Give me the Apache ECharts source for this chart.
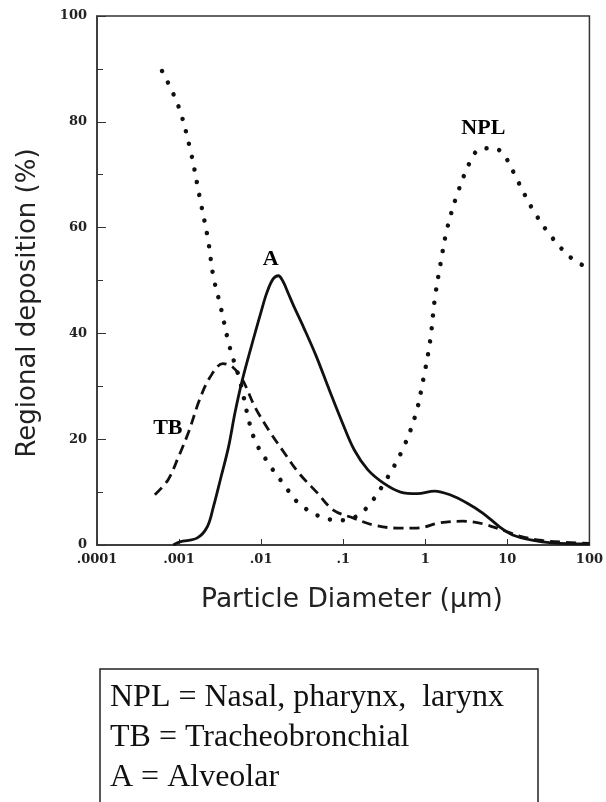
<!DOCTYPE html>
<html>
<head>
<meta charset="utf-8">
<script src="https://cdn.jsdelivr.net/npm/echarts@6/dist/echarts.min.js"></script>
<style>
  html, body { margin: 0; padding: 0; background: #fff; }
  #chart { width: 606px; height: 802px; }
</style>
</head>
<body>
<div id="chart"></div>
<script>
// tick labels of the log x axis, one per decade from 1e-4 to 1e2
var xTickLabels = ['.0001', '.001', '.01', '.1', '1', '10', '100'];

// [particle diameter (um), regional deposition (%)]
var nplData = [
    [0.00062, 89.6], [0.00098, 83.0], [0.00138, 74.5], [0.00179, 65.6],
    [0.00225, 57.8], [0.00262, 50.7], [0.00315, 45.6], [0.00408, 37.8],
    [0.00547, 31.2], [0.0081, 20.4], [0.0122, 15.5], [0.0184, 11.7],
    [0.0301, 7.6], [0.0655, 4.9], [0.097, 4.7], [0.14, 5.3],
    [0.203, 7.4], [0.339, 12.5], [0.538, 18.3], [0.767, 24.8],
    [0.948, 31.4], [1.146, 38.6], [1.31, 46.7], [1.53, 53.1],
    [1.84, 59.7], [2.47, 66.5], [3.61, 72.8], [4.68, 74.9],
    [6.92, 75.0], [9.13, 73.7], [13.4, 68.8], [20.6, 63.3],
    [34.7, 58.2], [61.7, 54.1], [100, 52.3]
];

var tbData = [
    [0.000507, 9.5], [0.000733, 12.3], [0.00098, 16.6], [0.00131, 21.4],
    [0.00177, 27.4], [0.00236, 31.6], [0.00343, 34.3], [0.00452, 33.6],
    [0.00594, 31.2], [0.0084, 26.1], [0.0124, 21.7], [0.0192, 17.4],
    [0.0288, 13.6], [0.0487, 9.8], [0.0758, 6.6], [0.132, 5.1],
    [0.231, 3.8], [0.452, 3.2], [0.79, 3.2], [1.51, 4.2],
    [2.88, 4.5], [5.04, 4.0], [8.8, 2.8], [14.1, 1.7],
    [24.7, 0.9], [52, 0.5], [100, 0.3]
];

var aData = [
    [0.00085, 0], [0.00102, 0.6], [0.00165, 1.3], [0.0022, 3.4],
    [0.00262, 7.2], [0.00325, 12.9], [0.004, 18.5], [0.0048, 25.0],
    [0.0059, 31.2], [0.008, 38.8], [0.0099, 43.9], [0.0118, 47.8],
    [0.014, 50.3], [0.0162, 50.9], [0.0185, 49.8], [0.0215, 47.5],
    [0.0249, 45.2], [0.0328, 41.2], [0.0466, 35.8], [0.0677, 29.3],
    [0.096, 23.4], [0.136, 18.0], [0.2, 14.2], [0.31, 11.7],
    [0.5, 10.0], [0.8, 9.7], [1.3, 10.2], [2.0, 9.5],
    [3.25, 7.9], [5.06, 6.0], [8.1, 3.4], [11.6, 1.9],
    [20, 0.9], [35, 0.4], [100, 0.2]
];

// curve names written on the plot: [diameter, deposition, text]
var curveLabels = [
    [5.1, 78.8, 'NPL'],
    [0.0131, 54.0, 'A'],
    [0.00073, 22.1, 'TB']
];

var legendLines = [
    'NPL = Nasal, pharynx,  larynx',
    'TB = Tracheobronchial',
    'A = Alveolar'
];

var chart = echarts.init(document.getElementById('chart'), null, { renderer: 'canvas' });

var ink = '#111';
var tickFont = { fontFamily: 'DejaVu Serif', fontWeight: 'bold', fontSize: 13, color: '#222' };

chart.setOption({
    backgroundColor: '#fff',
    animation: false,
    grid: {
        left: 97, top: 16, width: 493, height: 529,
        show: true, borderColor: '#333', borderWidth: 1.5,
        backgroundColor: 'transparent'
    },
    xAxis: {
        type: 'log',
        logBase: 10,
        min: 0.0001,
        max: 100,
        axisLine: { show: true, lineStyle: { color: '#333', width: 1.5 } },
        axisTick: { show: true, inside: true, length: 6, lineStyle: { color: '#333' } },
        splitLine: { show: false },
        axisLabel: Object.assign({
            margin: 8,
            formatter: function (v) {
                var i = Math.round(Math.log(v) / Math.LN10) + 4;
                return xTickLabels[i] || '';
            }
        }, tickFont)
    },
    yAxis: {
        type: 'value',
        min: 0,
        max: 100,
        interval: 20,
        axisLine: { show: true, lineStyle: { color: '#333', width: 1.5 } },
        axisTick: { show: true, inside: true, length: 9, lineStyle: { color: '#333' } },
        minorTick: { show: true, splitNumber: 2, length: 6, lineStyle: { color: '#333' } },
        splitLine: { show: false },
        axisLabel: Object.assign({ margin: 10 }, tickFont)
    },
    series: [
        {
            name: 'NPL',
            type: 'line',
            data: nplData,
            smooth: 0.35,
            symbol: 'none',
            lineStyle: { color: ink, width: 4.5, type: [0.01, 13], cap: 'round' }
        },
        {
            name: 'TB',
            type: 'line',
            data: tbData,
            smooth: 0.35,
            symbol: 'none',
            lineStyle: { color: ink, width: 2.8, type: [10, 6] }
        },
        {
            name: 'A',
            type: 'line',
            data: aData,
            smooth: 0.35,
            symbol: 'none',
            lineStyle: { color: ink, width: 2.8 }
        },
        {
            name: 'labels',
            type: 'scatter',
            data: curveLabels,
            symbolSize: 0,
            itemStyle: { color: '#000', opacity: 1 },
            label: {
                show: true,
                position: 'inside',
                formatter: function (p) { return p.data[2]; },
                fontFamily: 'Liberation Serif',
                fontWeight: 'bold',
                fontSize: 22,
                color: '#000',
                textBorderWidth: 0,
                opacity: 1
            },
            silent: true
        }
    ],
    graphic: [
        {
            type: 'text',
            x: 28, y: 303,
            rotation: Math.PI / 2,
            style: {
                text: 'Regional deposition (%)',
                font: '26px "DejaVu Sans"',
                fill: '#222',
                align: 'center',
                verticalAlign: 'middle'
            }
        },
        {
            type: 'text',
            x: 352, y: 600,
            style: {
                text: 'Particle Diameter (\u00b5m)',
                font: '26.5px "DejaVu Sans"',
                fill: '#222',
                align: 'center',
                verticalAlign: 'middle'
            }
        },
        {
            type: 'rect',
            shape: { x: 100, y: 669, width: 438, height: 160 },
            style: { fill: '#fff', stroke: '#222', lineWidth: 1.5 }
        },
        {
            type: 'text', x: 110, y: 698,
            style: { text: legendLines[0], font: '32px "Liberation Serif"', fill: '#111', verticalAlign: 'middle' }
        },
        {
            type: 'text', x: 110, y: 738,
            style: { text: legendLines[1], font: '32px "Liberation Serif"', fill: '#111', verticalAlign: 'middle' }
        },
        {
            type: 'text', x: 110, y: 778,
            style: { text: legendLines[2], font: '32px "Liberation Serif"', fill: '#111', verticalAlign: 'middle' }
        }
    ]
});
</script>
</body>
</html>
